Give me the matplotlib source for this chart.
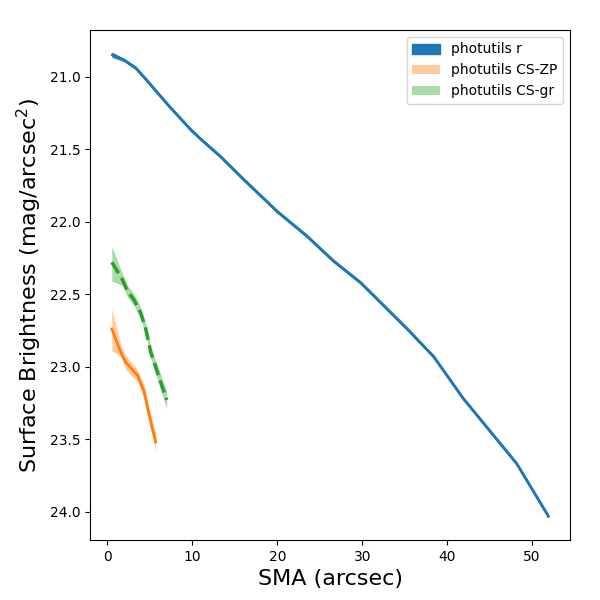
import numpy as np
import matplotlib
matplotlib.use('Agg')
import matplotlib.pyplot as plt

# photutils r profile
sma_r = [0.6, 1.96, 3.34, 4.71, 7.06, 9.8, 10.98, 13.3, 16.06, 20.0, 23.5, 26.6,
         29.8, 35.3, 38.4, 41.9, 45.4, 48.2, 51.9]
sb_r = [20.85, 20.885, 20.94, 21.03, 21.19, 21.365, 21.43, 21.55, 21.71, 21.93, 22.10, 22.27,
        22.42, 22.74, 22.93, 23.22, 23.47, 23.67, 24.03]
err_r = [0.012, 0.006, 0.006, 0.006, 0.006, 0.006, 0.006, 0.006, 0.006, 0.006, 0.006, 0.006,
         0.006, 0.006, 0.006, 0.006, 0.006, 0.006, 0.006]

# photutils CS-ZP profile
sma_zp = [0.52, 1.57, 2.16, 2.75, 3.54, 4.31, 4.9, 5.69]
sb_zp = [22.74, 22.90, 22.97, 23.01, 23.06, 23.17, 23.33, 23.52]
lo_zp = [22.60, 22.85, 22.92, 22.97, 23.02, 23.12, 23.28, 23.46]
hi_zp = [22.89, 22.93, 23.02, 23.06, 23.10, 23.22, 23.38, 23.58]

# photutils CS-gr profile
sma_gr = [0.52, 1.77, 2.36, 3.14, 3.92, 4.51, 5.1, 5.89, 6.98]
sb_gr = [22.28, 22.40, 22.48, 22.54, 22.63, 22.74, 22.90, 23.04, 23.23]
lo_gr = [22.17, 22.36, 22.44, 22.50, 22.59, 22.70, 22.86, 22.99, 23.17]
hi_gr = [22.41, 22.44, 22.52, 22.58, 22.67, 22.78, 22.94, 23.09, 23.29]

fig, ax = plt.subplots(figsize=(6, 6), dpi=100)
fig.subplots_adjust(left=0.15, right=0.95, top=0.95, bottom=0.1)

sb_r = np.array(sb_r)
err_r = np.array(err_r)
ax.fill_between(sma_r, sb_r - err_r, sb_r + err_r, color='C0', label='photutils r')
ax.plot(sma_r, sb_r, color='C0', lw=2, solid_joinstyle='round')

ax.fill_between(sma_zp, lo_zp, hi_zp, color='C1', alpha=0.4, lw=0, label='photutils CS-ZP')
ax.plot(sma_zp, sb_zp, color='C1', lw=2)

ax.fill_between(sma_gr, lo_gr, hi_gr, color='C2', alpha=0.4, lw=0, label='photutils CS-gr')
ax.plot(sma_gr, sb_gr, color='C2', lw=2.5, ls='--')

ax.invert_yaxis()
ax.set_xlabel('SMA (arcsec)', fontsize=16)
ax.set_ylabel('Surface Brightness (mag/arcsec$^2$)', fontsize=16)
ax.legend(loc='upper right')

plt.savefig('out.png')
